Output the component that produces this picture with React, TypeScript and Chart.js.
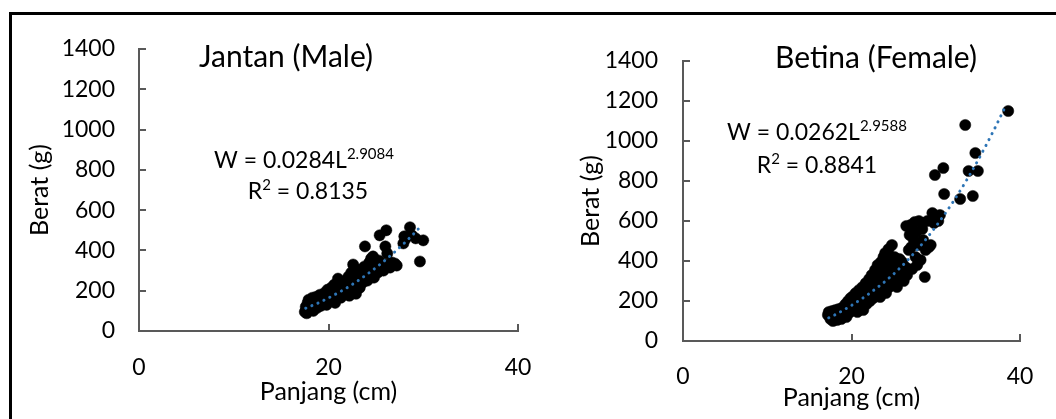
import React, { useEffect, useRef } from 'react';
import { Chart, registerables } from 'chart.js';

Chart.register(...registerables);

const FONT = 'Lato, "Open Sans", sans-serif';

// ---------- data ----------
const maleLength = [
  17.5, 17.6, 17.8, 17.7, 17.9, 18.0, 18.1, 18.2, 18.3, 18.4, 18.5, 18.6, 18.7, 18.8, 18.9, 19.0,
  19.1, 19.2, 19.3, 19.4, 19.5, 19.6, 19.7, 19.8, 19.9, 20.0, 20.1, 20.2, 20.3, 20.4, 20.5, 20.6,
  20.7, 20.8, 20.9, 21.0, 21.1, 21.2, 21.3, 21.4, 21.5, 21.6, 21.7, 21.8, 21.9, 22.0, 22.1, 22.2,
  22.3, 22.4, 22.5, 22.6, 22.7, 22.8, 22.9, 23.0, 23.1, 23.2, 23.3, 23.4, 23.5, 23.6, 23.8, 23.85,
  23.9, 24.0, 24.1, 24.3, 24.4, 24.5, 24.6, 24.7, 24.8, 25.0, 25.2, 25.3, 25.4, 25.5, 25.7, 25.8,
  26.0, 26.1, 26.2, 26.3, 26.5, 26.7, 27.0, 27.2, 27.9, 28.0, 28.1, 28.6, 28.8, 29.2, 29.65, 30.0,
];
const maleWeight = [
  95, 120, 140, 88, 155, 110, 130, 150, 165, 100, 125, 145, 170, 115, 135, 160,
  180, 125, 150, 170, 140, 190, 160, 130, 205, 175, 150, 195, 215, 160, 185, 230,
  140, 200, 175, 260, 215, 190, 165, 240, 205, 180, 225, 250, 195, 215, 270, 175,
  240, 290, 205, 330, 260, 225, 185, 280, 245, 305, 215, 265, 290, 240, 320, 420,
  270, 295, 250, 340, 280, 360, 305, 370, 265, 325, 290, 350, 475, 310, 335, 300,
  420, 500, 385, 330, 315, 340, 335, 325, 435, 470, 455, 515, 475, 460, 345, 450,
];

const femaleLength = [
  17.2, 17.3, 17.5, 17.6, 17.7, 17.8, 17.9, 18.0, 18.1, 18.2, 18.3, 18.4, 18.5, 18.6, 18.7, 18.8,
  18.9, 19.0, 19.1, 19.2, 19.3, 19.4, 19.5, 19.6, 19.7, 19.8, 19.9, 20.0, 20.1, 20.2, 20.3, 20.4,
  20.5, 20.6, 20.7, 20.8, 20.9, 21.0, 21.1, 21.2, 21.3, 21.4, 21.5, 21.6, 21.7, 21.8, 21.9, 22.0,
  22.1, 22.2, 22.3, 22.4, 22.5, 22.6, 22.7, 22.8, 22.9, 23.0, 23.1, 23.2, 23.3, 23.4, 23.5, 23.6,
  23.7, 23.8, 23.9, 24.0, 24.1, 24.2, 24.3, 24.4, 24.5, 24.6, 24.7, 24.8, 24.9, 25.0, 25.1, 25.2,
  25.4, 25.5, 25.7, 25.9, 26.0, 26.2, 26.4, 26.5, 26.6, 26.8, 26.9, 27.0, 27.1, 27.2, 27.4, 27.5,
  27.6, 27.7, 27.8, 28.0, 28.1, 28.2, 28.4, 28.5, 28.7, 28.8, 29.0, 29.2, 29.4, 29.6, 29.8, 29.9,
  30.3, 30.5, 30.9, 31.0, 32.9, 33.5, 33.9, 34.4, 34.7, 35.0, 38.6,
];
const femaleWeight = [
  130, 145, 110, 120, 150, 100, 135, 115, 155, 125, 105, 140, 160, 120, 135, 110,
  150, 170, 130, 145, 185, 120, 160, 200, 140, 175, 215, 150, 190, 225, 165, 205,
  240, 180, 145, 215, 255, 195, 170, 235, 270, 155, 210, 250, 290, 185, 225, 265,
  310, 200, 245, 330, 285, 215, 260, 355, 300, 235, 380, 275, 320, 220, 395, 255,
  345, 420, 290, 440, 240, 365, 310, 460, 270, 400, 330, 480, 290, 375, 420, 300,
  270, 350, 410, 320, 395, 300, 370, 575, 330, 455, 530, 580, 470, 360, 505, 595,
  420, 545, 380, 600, 480, 405, 560, 505, 320, 455, 600, 470, 480, 640, 590, 830,
  600, 630, 865, 735, 710, 1080, 850, 725, 940, 850, 1150,
];

// trend lines (blue dotted)
const maleTrendLength = [17.6, 18, 19, 20, 21, 22, 23, 24, 25, 26, 27, 28, 29, 29.7];
const maleTrendWeight = [113, 121, 141, 164, 189, 216, 246, 279, 314, 352, 393, 436, 483, 518];
const femaleTrendLength = [17.3, 18, 19, 20, 21, 22, 23, 24, 25, 26, 27, 28, 29, 30, 31, 32, 33, 34, 35, 36, 37, 38.3];
const femaleTrendWeight = [116, 130, 153, 178, 205, 234, 265, 298, 335, 375, 419, 466, 517, 572, 630, 692, 758, 828, 902, 981, 1063, 1175];

const xTicks = [0, 20, 40];
const yTicks = [0, 200, 400, 600, 800, 1000, 1200, 1400];

const maleTitle = 'Jantan (Male)';
const femaleTitle = 'Betina (Female)';
const maleEq = ['W = 0.0284L', '2.9084', '0.8135'];
const femaleEq = ['W = 0.0262L', '2.9588', '0.8841'];

const xTitle = 'Panjang (cm)';
const yTitle = 'Berat (g)';

type Panel = {
  left: number;
  width: number;
  area: { left: number; top: number; right: number; bottom: number };
  titleX: number;
  titleY: number;
  eq1X: number;
  eq1Y: number;
  eq2X: number;
  eq2Y: number;
  yTitlePad: number;
  xTitlePad: number;
  xTickPad: number;
  yTickPad: number;
};

const H = 419;

function drawParts(ctx: CanvasRenderingContext2D, parts: { t: string; sup?: boolean }[], cx: number, baseline: number) {
  const main = `23px ${FONT}`;
  const small = `15px ${FONT}`;
  let total = 0;
  const widths = parts.map((p) => {
    ctx.font = p.sup ? small : main;
    const w = ctx.measureText(p.t).width;
    total += w;
    return w;
  });
  let x = cx - total / 2;
  ctx.textAlign = 'left';
  ctx.textBaseline = 'alphabetic';
  parts.forEach((p, i) => {
    ctx.font = p.sup ? small : main;
    ctx.fillText(p.t, x, p.sup ? baseline - 9 : baseline);
    x += widths[i];
  });
}

const overlay = {
  id: 'overlay',
  afterDraw(chart: any, _args: any, opts: any) {
    const { ctx, chartArea } = chart;
    const xs = chart.scales.x;
    const ys = chart.scales.y;
    ctx.save();
    ctx.strokeStyle = '#595959';
    ctx.lineWidth = 2;
    ctx.beginPath();
    yTicks.forEach((v) => {
      if (v === 0) return;
      const y = Math.round(ys.getPixelForValue(v));
      ctx.moveTo(chartArea.left, y);
      ctx.lineTo(chartArea.left + 7, y);
    });
    xTicks.forEach((v) => {
      if (v === 0) return;
      const x = Math.round(xs.getPixelForValue(v));
      ctx.moveTo(x, chartArea.bottom);
      ctx.lineTo(x, chartArea.bottom - 7);
    });
    ctx.stroke();

    ctx.fillStyle = '#000';
    ctx.font = `30px ${FONT}`;
    ctx.textAlign = 'center';
    ctx.textBaseline = 'alphabetic';
    ctx.fillText(opts.title, opts.titleX, opts.titleY);

    drawParts(ctx, [{ t: opts.eq[0] }, { t: opts.eq[1], sup: true }], opts.eq1X, opts.eq1Y);
    drawParts(ctx, [{ t: 'R' }, { t: '2', sup: true }, { t: ' = ' + opts.eq[2] }], opts.eq2X, opts.eq2Y);
    ctx.restore();
  },
};

function ScatterPanel(props: {
  panel: Panel;
  lengths: number[];
  weights: number[];
  trendL: number[];
  trendW: number[];
  title: string;
  eq: string[];
}) {
  const ref = useRef<HTMLCanvasElement>(null);
  const { panel } = props;
  useEffect(() => {
    const canvas = ref.current!;
    const tickFont = { family: FONT, size: 23 };
    const pad = { left: 0, top: panel.area.top, right: panel.width - panel.area.right, bottom: 0 };
    const options: any = {
      responsive: false,
      animation: false,
      devicePixelRatio: 1,
      events: [],
      layout: { padding: pad },
      plugins: {
        legend: { display: false },
        tooltip: { enabled: false },
        overlay: {
          title: props.title,
          titleX: panel.titleX,
          titleY: panel.titleY,
          eq: props.eq,
          eq1X: panel.eq1X,
          eq1Y: panel.eq1Y,
          eq2X: panel.eq2X,
          eq2Y: panel.eq2Y,
        },
      },
      scales: {
        x: {
          type: 'linear',
          min: 0,
          max: 40,
          afterBuildTicks: (s: any) => {
            s.ticks = xTicks.map((v) => ({ value: v }));
          },
          ticks: {
            font: tickFont,
            color: '#000',
            padding: panel.xTickPad,
            maxRotation: 0,
            autoSkip: false,
            callback: (v: any) => String(v),
          },
          grid: { display: true, drawOnChartArea: false, drawTicks: false },
          border: { display: true, color: '#595959', width: 2 },
          title: {
            display: true,
            text: xTitle,
            font: { family: FONT, size: 25 },
            color: '#000',
            padding: { top: 0, bottom: panel.xTitlePad },
          },
          afterFit: (s: any) => {
            s.height = H - panel.area.bottom;
          },
        },
        y: {
          type: 'linear',
          min: 0,
          max: 1400,
          afterBuildTicks: (s: any) => {
            s.ticks = yTicks.map((v) => ({ value: v }));
          },
          ticks: {
            font: tickFont,
            color: '#000',
            padding: panel.yTickPad,
            autoSkip: false,
            callback: (v: any) => String(v),
          },
          grid: { display: true, drawOnChartArea: false, drawTicks: false },
          border: { display: true, color: '#595959', width: 2 },
          title: {
            display: true,
            text: yTitle,
            font: { family: FONT, size: 25 },
            color: '#000',
            padding: { top: panel.yTitlePad, bottom: 0 },
          },
          afterFit: (s: any) => {
            s.width = panel.area.left;
          },
        },
      },
    };
    const chart = new Chart(canvas, {
      type: 'scatter',
      data: {
        datasets: [
          {
            type: 'line',
            data: props.trendL.map((x, i) => ({ x, y: props.trendW[i] })),
            borderColor: '#2E75B6',
            borderWidth: 3,
            borderDash: [0.1, 6.5],
            borderCapStyle: 'round',
            pointRadius: 0,
            fill: false,
            tension: 0,
          } as any,
          {
            type: 'scatter',
            data: props.lengths.map((x, i) => ({ x, y: props.weights[i] })),
            backgroundColor: '#000',
            borderColor: '#000',
            pointRadius: 5.6,
            pointBorderWidth: 0.5,
          },
        ],
      },
      options,
      plugins: [overlay],
    });
    return () => chart.destroy();
  }, []);
  return (
    <canvas
      ref={ref}
      width={panel.width}
      height={H}
      style={{ position: 'absolute', left: panel.left, top: 0, width: panel.width, height: H, display: 'block' }}
    />
  );
}

// the x-axis reserves (last label half-width + tick padding) on the right,
// so the canvases are made wide enough for that reserve to end at the target edge
const leftPanel: Panel = {
  left: 0,
  width: 558,
  area: { left: 139, top: 49, right: 518, bottom: 331 },
  titleX: 286,
  titleY: 67,
  eq1X: 304,
  eq1Y: 168,
  eq2X: 308,
  eq2Y: 199,
  yTitlePad: 25,
  xTitlePad: 12,
  xTickPad: 23,
  yTickPad: 24,
};

const rightPanel: Panel = {
  left: 528,
  width: 532,
  area: { left: 155, top: 61, right: 492, bottom: 341 },
  titleX: 348,
  titleY: 68,
  eq1X: 289,
  eq1Y: 140,
  eq2X: 289,
  eq2Y: 173,
  yTitlePad: 48,
  xTitlePad: 6,
  xTickPad: 22,
  yTickPad: 25,
};

export default function App() {
  return (
    <div
      style={{
        position: 'absolute',
        left: 0,
        top: 0,
        width: 1056,
        height: 419,
        overflow: 'hidden',
        background: '#fff',
      }}
    >
      <ScatterPanel
        panel={leftPanel}
        lengths={maleLength}
        weights={maleWeight}
        trendL={maleTrendLength}
        trendW={maleTrendWeight}
        title={maleTitle}
        eq={maleEq}
      />
      <ScatterPanel
        panel={rightPanel}
        lengths={femaleLength}
        weights={femaleWeight}
        trendL={femaleTrendLength}
        trendW={femaleTrendWeight}
        title={femaleTitle}
        eq={femaleEq}
      />
      <div
        style={{
          position: 'absolute',
          left: 9,
          top: 12,
          width: 1200,
          height: 600,
          border: '3px solid #000',
          boxSizing: 'border-box',
          pointerEvents: 'none',
        }}
      />
    </div>
  );
}
